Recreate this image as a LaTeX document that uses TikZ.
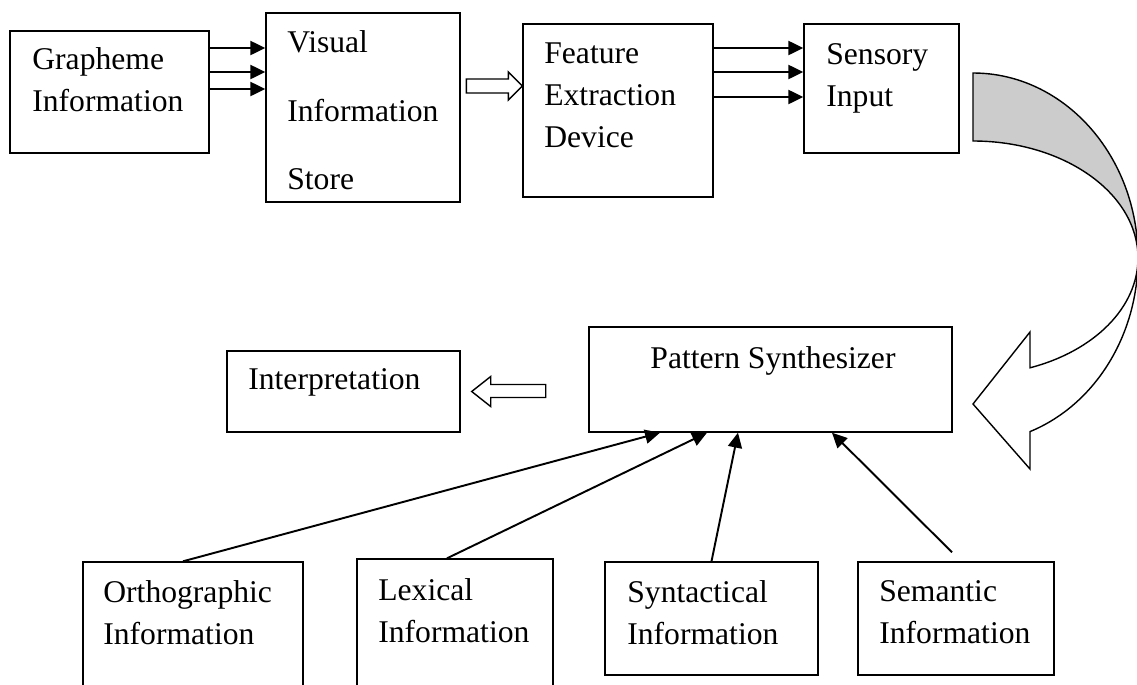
\documentclass[tikz,border=0pt]{standalone}
\usepackage{fontspec}
\setmainfont{Liberation Serif}
\usetikzlibrary{arrows.meta,fit}

\tikzset{
  block/.style={draw, line width=0.8pt, inner sep=0pt},
  txt/.style={inner sep=0pt, anchor=north west, align=left, font=\fontsize{18}{24}\selectfont},
  conn/.style={line width=1.1pt, -{Triangle[length=8.5pt,width=8pt]}},
  hollow/.style={draw, line width=0.8pt, fill=white, line join=miter}
}

\begin{document}
\begin{tikzpicture}[x=0.02cm, y=-0.02cm]
  \useasboundingbox (0,0) rectangle (1137,684);
  \clip (0,0) rectangle (1137,684);

  % Nodes
  % top row
  \node[block, fit={(10,31) (209,153)}] (graph) {};
  \node[block, fit={(266,13) (460,202)}] (visual) {};
  \node[block, fit={(523,24) (713,197)}] (feature) {};
  \node[block, fit={(804,24) (959,153)}] (sensory) {};
  \node[txt] (graphT) at (32,47.5) {Grapheme\\Information};
  \node[txt, font=\fontsize{18}{39}\selectfont] (visualT) at (287,30.5) {Visual\\Information\\Store};
  \node[txt] (featureT) at (544,42.5) {Feature\\Extraction\\Device};
  \node[txt] (sensoryT) at (826,43.5) {Sensory\\Input};

  % middle row
  \node[block, fit={(589,327) (952,432)}] (pattern) {};
  \node[block, fit={(227,351) (460,432)}] (interp) {};
  \node[txt, anchor=north] (patternT) at (773,346.5) {Pattern Synthesizer};
  \node[txt] (interpT) at (248,368.5) {Interpretation};

  % bottom row
  \node[block, fit={(83,562) (303,700)}] (ortho) {};
  \node[block, fit={(357,559) (553,700)}] (lexical) {};
  \node[block, fit={(605,562) (818,675)}] (syntac) {};
  \node[block, fit={(858,562) (1054,675)}] (semantic) {};
  \node[txt] (orthoT) at (103,580.5) {Orthographic\\Information};
  \node[txt] (lexicalT) at (378,578.5) {Lexical\\Information};
  \node[txt] (syntacT) at (627,580.5) {Syntactical\\Information};
  \node[txt] (semanticT) at (879,580.5) {Semantic\\Information};

  % Edges
  \foreach \y in {48,72,89}
    \draw[conn] (graph.east |- 0,\y) -- (visual.west |- 0,\y);
  \foreach \y in {48,72,97}
    \draw[conn] (feature.east |- 0,\y) -- (sensory.west |- 0,\y);
  \draw[hollow] (feature.west |- 0,86) -- ++(-14,-14) -- ++(0,7) -- ++(-42,0)
    -- ++(0,14) -- ++(42,0) -- ++(0,7) -- cycle;
  \draw[hollow] (interp.east) ++(11,0) -- ++(19,-15) -- ++(0,8) -- ++(55,0)
    -- ++(0,13) -- ++(-55,0) -- ++(0,9) -- cycle;

  % curved arrow from sensory input to the synthesizer
  \filldraw[fill=gray!40, line width=0.8pt] (973,73)
    arc[start angle=-90, end angle=0, x radius=165, y radius=185]
    arc[start angle=0, end angle=-90, x radius=165, y radius=117] -- cycle;
  \filldraw[fill=white, line width=0.8pt] (1138,258)
    arc[start angle=0, end angle=69.79, x radius=165, y radius=117]
    -- (1030,332) -- (973,404) -- (1030,469) -- (1030,431.6)
    arc[start angle=69.79, end angle=0, x radius=165, y radius=185] -- cycle;

  \draw[conn] (ortho.north -| 183,0) -- (pattern.south -| 660,0);
  \draw[conn] (lexical.north -| 447,0) -- (pattern.south -| 707,0);
  \draw[conn] (syntac.north) -- (pattern.south -| 738,0);
  \draw[conn] (semantic.north) ++(-4,-9) -- (pattern.south -| 832,0);
\end{tikzpicture}
\end{document}
